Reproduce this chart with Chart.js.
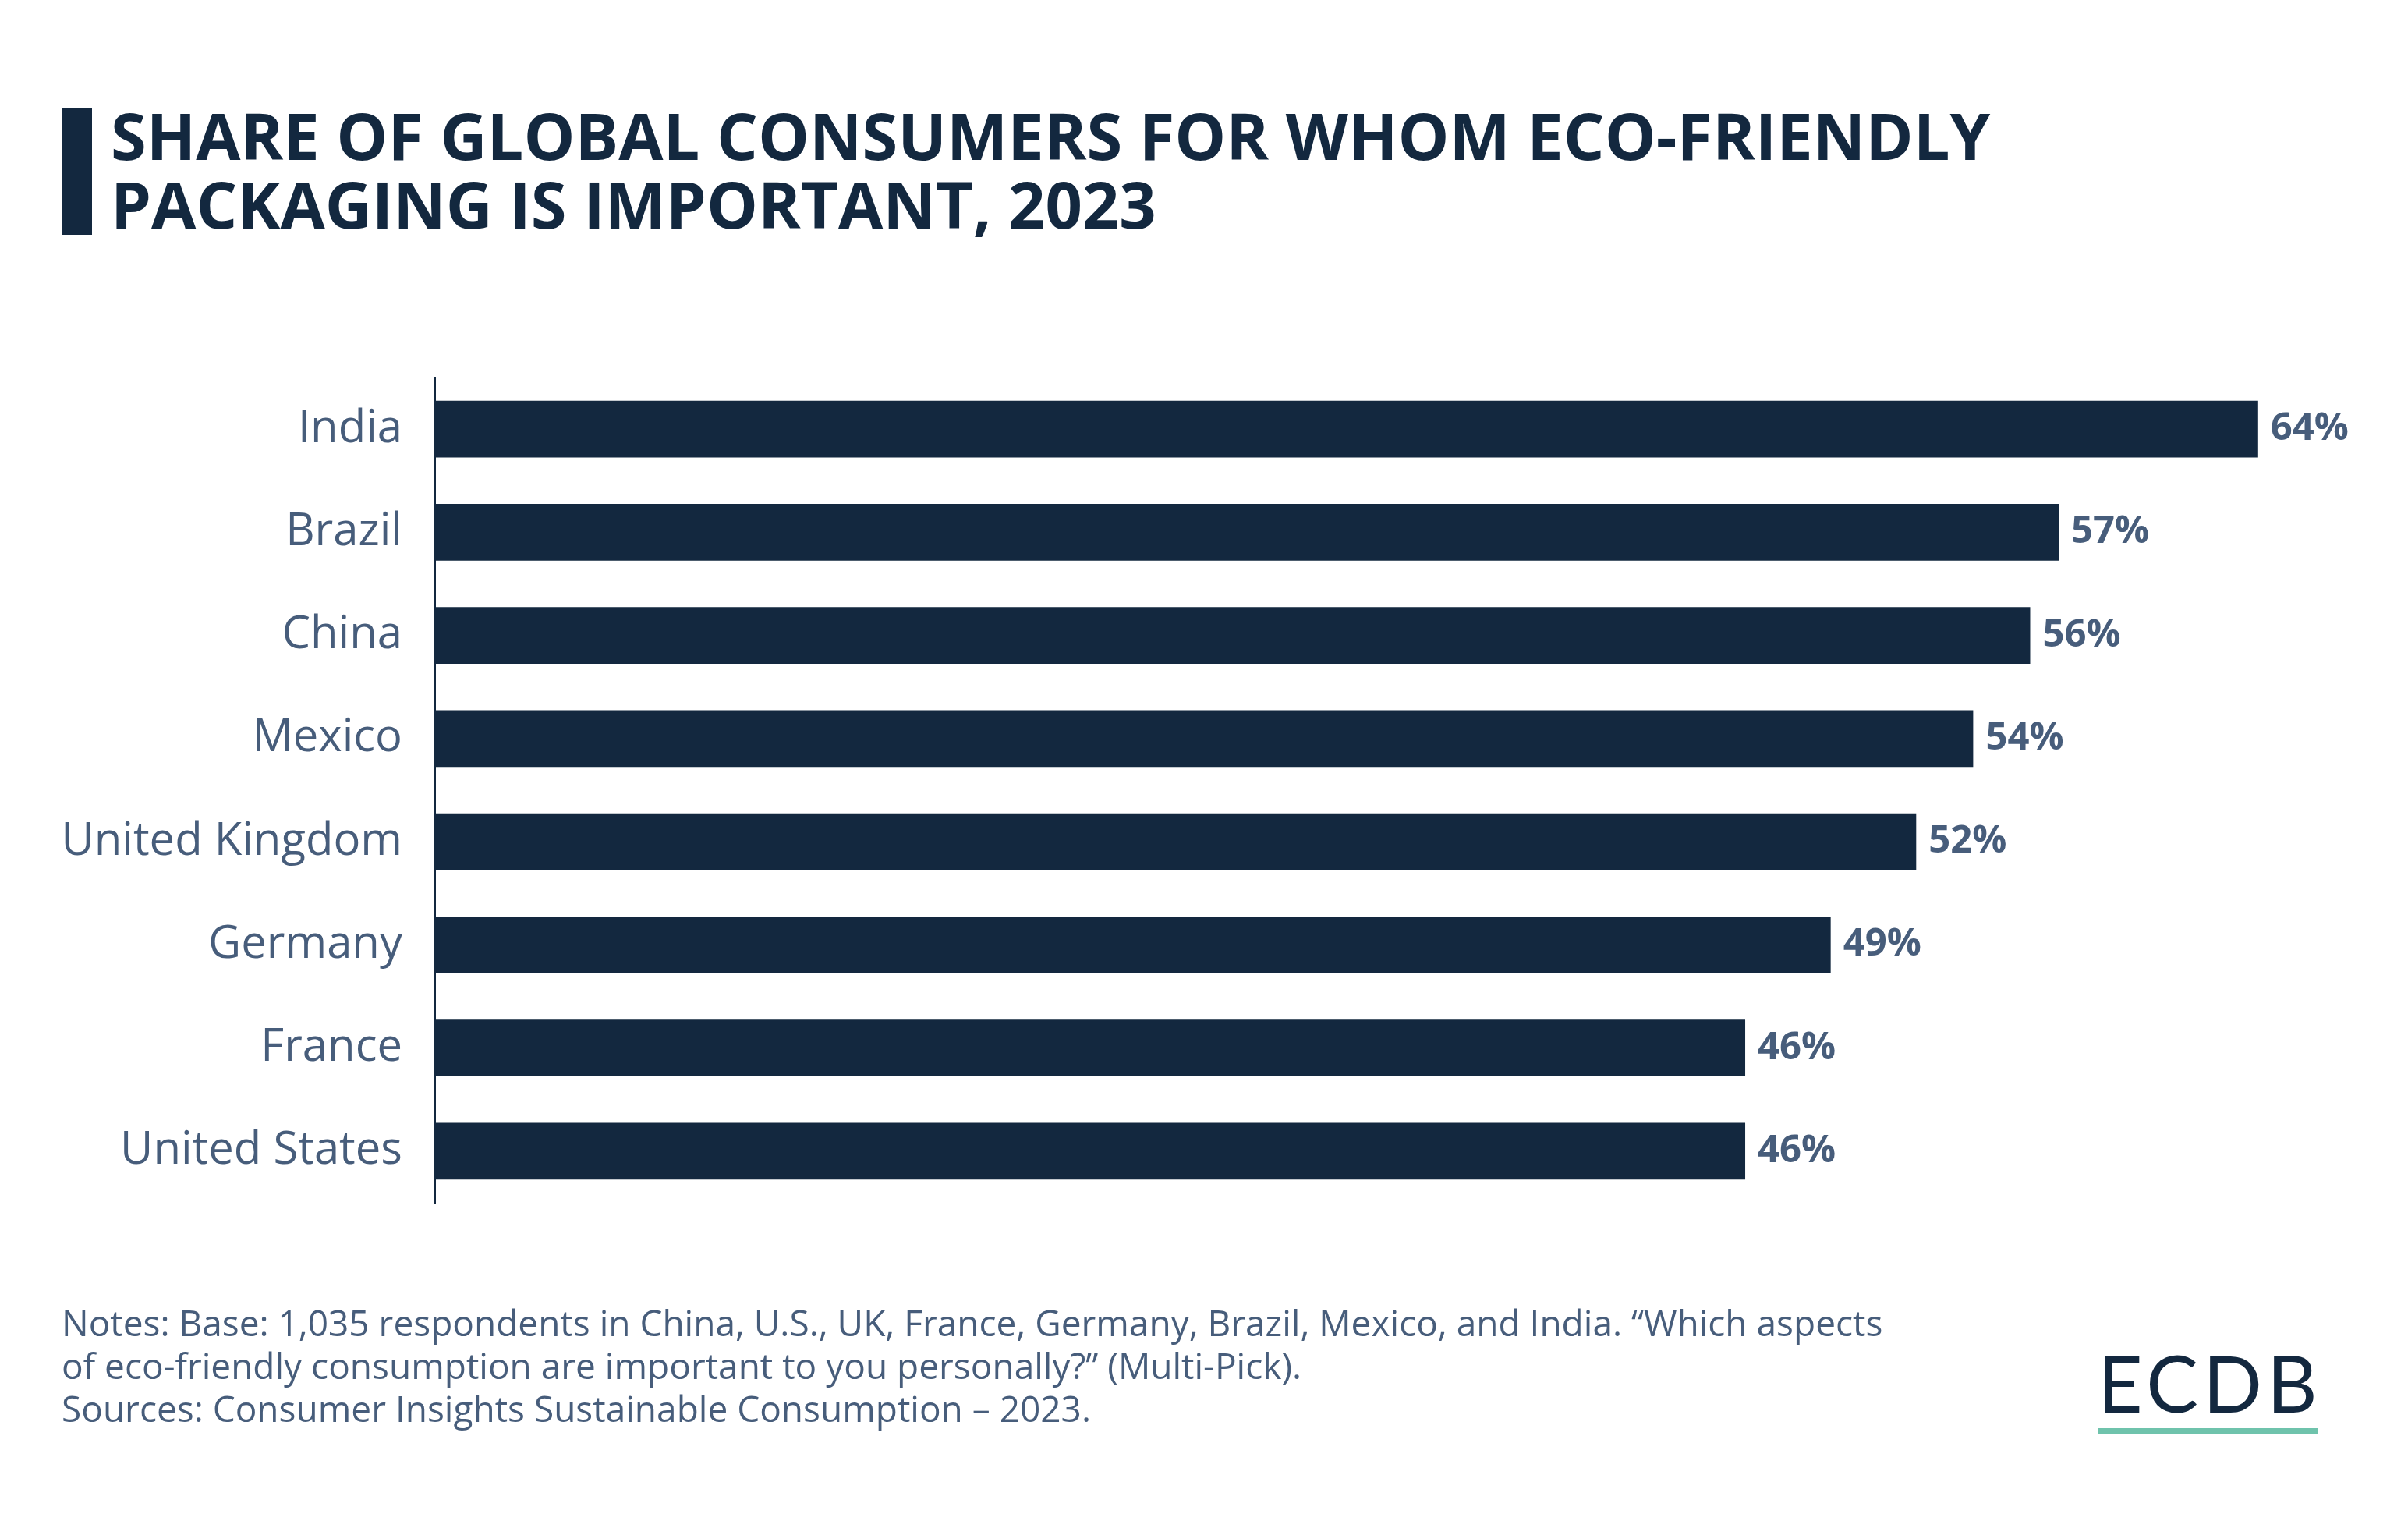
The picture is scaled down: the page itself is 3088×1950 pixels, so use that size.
<!DOCTYPE html>
<html>
<head>
<meta charset="utf-8">
<script src="https://cdn.jsdelivr.net/npm/chart.js@4.4.1/dist/chart.umd.min.js"></script>
<style>
  html, body { margin: 0; padding: 0; background: #fff; }
  body { width: 3088px; height: 1950px; position: relative; overflow: hidden; font-family: "Open Sans", sans-serif; }
  #titleBar { position: absolute; left: 79px; top: 138px; width: 39px; height: 163px; background: #13283f; }
  #title { position: absolute; left: 142px; top: 129px; font-weight: 700; font-size: 83px; line-height: 88px; color: #13283f; margin: 0; }
  #chartBox { position: absolute; left: 0; top: 0; width: 3088px; height: 1950px; }
  #notes { position: absolute; left: 79px; top: 1668px; font-size: 46px; line-height: 55px; color: #475d7b; }
  #logo { position: absolute; left: 2690px; top: 1722px; font-family: Lato, sans-serif; font-size: 100px; line-height: 100px; letter-spacing: 6px; color: #13283f; }
  #logoLine { position: absolute; left: 2690px; top: 1831px; width: 283px; height: 8px; background: #6fc3ac; }
</style>
</head>
<body>
<div id="titleBar"></div>
<div id="title">SHARE OF GLOBAL CONSUMERS FOR WHOM ECO-FRIENDLY<br>PACKAGING IS IMPORTANT, 2023</div>
<div id="chartBox"><canvas id="chart"></canvas></div>
<div id="notes">Notes: Base: 1,035 respondents in China, U.S., UK, France, Germany, Brazil, Mexico, and India. “Which aspects<br>of eco-friendly consumption are important to you personally?” (Multi-Pick).<br>Sources: Consumer Insights Sustainable Consumption – 2023.</div>
<div id="logo">ECDB</div>
<div id="logoLine"></div>
<script>
/* ===== Data ===== */
const countries = ["India", "Brazil", "China", "Mexico", "United Kingdom", "Germany", "France", "United States"];
const shares = [64, 57, 56, 54, 52, 49, 46, 46];

/* ===== Value labels at bar ends ===== */
const valueLabels = {
  id: "valueLabels",
  afterDatasetsDraw(chart) {
    const ctx = chart.ctx;
    const meta = chart.getDatasetMeta(0);
    ctx.save();
    ctx.font = "bold 49px 'Open Sans'";
    ctx.fillStyle = "#475d7b";
    ctx.textAlign = "left";
    ctx.textBaseline = "middle";
    meta.data.forEach((bar, i) => {
      ctx.fillText(shares[i] + "%", bar.x + 16, bar.y);
    });
    ctx.restore();
  }
};

new Chart(document.getElementById("chart"), {
  type: "bar",
  data: {
    labels: countries,
    datasets: [{
      data: shares,
      backgroundColor: "#13283f",
      categoryPercentage: 1,
      barPercentage: 0.55
    }]
  },
  options: {
    indexAxis: "y",
    responsive: true,
    maintainAspectRatio: false,
    animation: false,
    layout: { padding: { top: 484, bottom: 408, left: 0, right: 46 } },
    plugins: { legend: { display: false }, tooltip: { enabled: false } },
    scales: {
      x: { display: false, min: 0, max: 68 },
      y: {
        afterFit(scale) { scale.width = 557; },
        grid: { display: false, drawTicks: false, tickLength: 0 },
        border: { display: true, color: "#13283f", width: 3 },
        ticks: {
          padding: 41,
          color: "#475d7b",
          font: { family: "'Open Sans'", size: 58 }
        }
      }
    }
  },
  plugins: [valueLabels]
});
</script>
</body>
</html>
